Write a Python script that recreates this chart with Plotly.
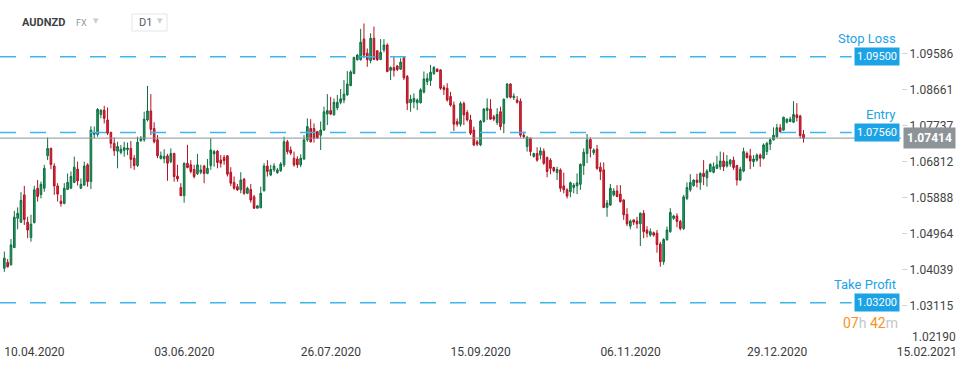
import plotly.graph_objects as go

# ---------------- data (daily AUDNZD candles) ----------------
opens = [
    1.0408, 1.0423, 1.0417, 1.0461, 1.0536, 1.0526, 1.0596, 1.0526, 1.0487, 1.0525,
    1.0613, 1.0597, 1.0613, 1.0696, 1.0715, 1.0670, 1.0619, 1.0580, 1.0574, 1.0610,
    1.0613, 1.0628, 1.0662, 1.0613, 1.0621, 1.0673, 1.0630, 1.0751, 1.0751, 1.0802,
    1.0813, 1.0788, 1.0756, 1.0728, 1.0708, 1.0705, 1.0710, 1.0712, 1.0715, 1.0690,
    1.0671, 1.0735, 1.0737, 1.0788, 1.0811, 1.0766, 1.0737, 1.0689, 1.0689, 1.0696,
    1.0681, 1.0702, 1.0644, 1.0615, 1.0594, 1.0677, 1.0673, 1.0661, 1.0650, 1.0654,
    1.0670, 1.0651, 1.0671, 1.0701, 1.0708, 1.0685, 1.0692, 1.0696, 1.0654, 1.0628,
    1.0617, 1.0609, 1.0637, 1.0600, 1.0610, 1.0591, 1.0562, 1.0563, 1.0607, 1.0670,
    1.0647, 1.0660, 1.0653, 1.0658, 1.0673, 1.0732, 1.0711, 1.0690, 1.0688, 1.0673,
    1.0688, 1.0737, 1.0766, 1.0766, 1.0758, 1.0749, 1.0762, 1.0803, 1.0812, 1.0801,
    1.0819, 1.0833, 1.0839, 1.0852, 1.0876, 1.0907, 1.0942, 1.0942, 1.0995, 1.0959,
    1.0940, 1.0997, 1.0965, 1.0943, 1.0967, 1.0980, 1.0915, 1.0922, 1.0926, 1.0918,
    1.0947, 1.0899, 1.0832, 1.0834, 1.0832, 1.0832, 1.0859, 1.0886, 1.0889, 1.0907,
    1.0918, 1.0916, 1.0871, 1.0869, 1.0848, 1.0826, 1.0784, 1.0777, 1.0830, 1.0807,
    1.0788, 1.0762, 1.0732, 1.0724, 1.0784, 1.0812, 1.0816, 1.0796, 1.0781, 1.0809,
    1.0779, 1.0846, 1.0880, 1.0845, 1.0839, 1.0836, 1.0749, 1.0720, 1.0741, 1.0694,
    1.0702, 1.0698, 1.0708, 1.0692, 1.0685, 1.0666, 1.0653, 1.0660, 1.0619, 1.0609,
    1.0604, 1.0615, 1.0619, 1.0623, 1.0671, 1.0702, 1.0738, 1.0704, 1.0713, 1.0667,
    1.0660, 1.0564, 1.0570, 1.0596, 1.0606, 1.0598, 1.0583, 1.0546, 1.0516, 1.0532,
    1.0529, 1.0522, 1.0549, 1.0506, 1.0493, 1.0499, 1.0498, 1.0470, 1.0425, 1.0481,
    1.0502, 1.0536, 1.0542, 1.0528, 1.0510, 1.0587, 1.0609, 1.0620, 1.0634, 1.0628,
    1.0651, 1.0640, 1.0656, 1.0654, 1.0664, 1.0668, 1.0683, 1.0670, 1.0675, 1.0685,
    1.0671, 1.0634, 1.0657, 1.0702, 1.0696, 1.0681, 1.0685, 1.0698, 1.0690, 1.0707,
    1.0726, 1.0737, 1.0745, 1.0768, 1.0762, 1.0782, 1.0784, 1.0782, 1.0801, 1.0798,
    1.0751,
]
highs = [
    1.0451, 1.0432, 1.0483, 1.0555, 1.0564, 1.0603, 1.0619, 1.0540, 1.0545, 1.0619,
    1.0634, 1.0630, 1.0673, 1.0743, 1.0717, 1.0677, 1.0626, 1.0596, 1.0626, 1.0651,
    1.0656, 1.0694, 1.0681, 1.0638, 1.0681, 1.0677, 1.0772, 1.0771, 1.0818, 1.0815,
    1.0824, 1.0820, 1.0758, 1.0743, 1.0732, 1.0724, 1.0732, 1.0730, 1.0734, 1.0698,
    1.0745, 1.0747, 1.0809, 1.0875, 1.0854, 1.0782, 1.0749, 1.0707, 1.0713, 1.0701,
    1.0715, 1.0704, 1.0673, 1.0626, 1.0679, 1.0724, 1.0685, 1.0673, 1.0701, 1.0673,
    1.0673, 1.0688, 1.0741, 1.0711, 1.0711, 1.0698, 1.0698, 1.0698, 1.0667, 1.0643,
    1.0624, 1.0654, 1.0638, 1.0617, 1.0624, 1.0596, 1.0570, 1.0617, 1.0677, 1.0685,
    1.0673, 1.0677, 1.0665, 1.0680, 1.0745, 1.0737, 1.0720, 1.0707, 1.0695, 1.0700,
    1.0749, 1.0792, 1.0790, 1.0779, 1.0760, 1.0784, 1.0822, 1.0854, 1.0847, 1.0843,
    1.0852, 1.0867, 1.0890, 1.0913, 1.0915, 1.0950, 1.0957, 1.1021, 1.1035, 1.0971,
    1.1010, 1.1027, 1.0967, 1.0995, 1.0995, 1.0984, 1.0925, 1.0952, 1.0929, 1.0946,
    1.0950, 1.0903, 1.0852, 1.0856, 1.0843, 1.0869, 1.0912, 1.0907, 1.0929, 1.0926,
    1.0920, 1.0918, 1.0877, 1.0882, 1.0860, 1.0835, 1.0792, 1.0835, 1.0835, 1.0813,
    1.0801, 1.0771, 1.0737, 1.0788, 1.0818, 1.0843, 1.0841, 1.0801, 1.0818, 1.0822,
    1.0843, 1.0882, 1.0882, 1.0856, 1.0849, 1.0843, 1.0758, 1.0747, 1.0743, 1.0704,
    1.0718, 1.0718, 1.0715, 1.0694, 1.0690, 1.0668, 1.0668, 1.0664, 1.0653, 1.0613,
    1.0630, 1.0626, 1.0651, 1.0677, 1.0715, 1.0752, 1.0743, 1.0715, 1.0724, 1.0679,
    1.0679, 1.0583, 1.0624, 1.0613, 1.0621, 1.0621, 1.0585, 1.0562, 1.0533, 1.0533,
    1.0540, 1.0551, 1.0557, 1.0516, 1.0510, 1.0502, 1.0506, 1.0476, 1.0485, 1.0515,
    1.0562, 1.0545, 1.0549, 1.0532, 1.0596, 1.0628, 1.0649, 1.0636, 1.0650, 1.0654,
    1.0685, 1.0662, 1.0677, 1.0679, 1.0696, 1.0707, 1.0705, 1.0698, 1.0688, 1.0694,
    1.0673, 1.0668, 1.0717, 1.0707, 1.0714, 1.0698, 1.0702, 1.0702, 1.0728, 1.0732,
    1.0741, 1.0769, 1.0778, 1.0777, 1.0796, 1.0792, 1.0796, 1.0836, 1.0831, 1.0801,
    1.0762,
]
lows = [
    1.0399, 1.0410, 1.0415, 1.0460, 1.0508, 1.0524, 1.0519, 1.0485, 1.0476, 1.0523,
    1.0579, 1.0587, 1.0604, 1.0685, 1.0662, 1.0596, 1.0579, 1.0566, 1.0572, 1.0609,
    1.0611, 1.0626, 1.0620, 1.0611, 1.0620, 1.0617, 1.0611, 1.0741, 1.0745, 1.0792,
    1.0779, 1.0749, 1.0715, 1.0696, 1.0664, 1.0700, 1.0694, 1.0698, 1.0664, 1.0660,
    1.0668, 1.0732, 1.0732, 1.0784, 1.0749, 1.0728, 1.0690, 1.0687, 1.0677, 1.0632,
    1.0677, 1.0630, 1.0630, 1.0593, 1.0576, 1.0664, 1.0651, 1.0638, 1.0647, 1.0649,
    1.0626, 1.0649, 1.0660, 1.0668, 1.0664, 1.0666, 1.0673, 1.0643, 1.0619, 1.0609,
    1.0606, 1.0600, 1.0596, 1.0598, 1.0576, 1.0560, 1.0561, 1.0562, 1.0604, 1.0643,
    1.0644, 1.0655, 1.0650, 1.0655, 1.0667, 1.0700, 1.0698, 1.0668, 1.0665, 1.0667,
    1.0685, 1.0732, 1.0730, 1.0730, 1.0739, 1.0711, 1.0760, 1.0775, 1.0800, 1.0799,
    1.0813, 1.0828, 1.0831, 1.0850, 1.0874, 1.0905, 1.0940, 1.0940, 1.0946, 1.0924,
    1.0933, 1.0941, 1.0939, 1.0941, 1.0961, 1.0910, 1.0890, 1.0899, 1.0913, 1.0916,
    1.0890, 1.0813, 1.0809, 1.0818, 1.0813, 1.0830, 1.0856, 1.0877, 1.0875, 1.0903,
    1.0911, 1.0865, 1.0852, 1.0835, 1.0822, 1.0760, 1.0771, 1.0771, 1.0775, 1.0784,
    1.0749, 1.0721, 1.0721, 1.0721, 1.0781, 1.0788, 1.0788, 1.0785, 1.0775, 1.0762,
    1.0754, 1.0843, 1.0843, 1.0839, 1.0830, 1.0743, 1.0741, 1.0707, 1.0696, 1.0692,
    1.0681, 1.0687, 1.0673, 1.0641, 1.0649, 1.0654, 1.0634, 1.0604, 1.0600, 1.0587,
    1.0590, 1.0600, 1.0598, 1.0609, 1.0647, 1.0677, 1.0692, 1.0698, 1.0660, 1.0634,
    1.0562, 1.0540, 1.0568, 1.0592, 1.0590, 1.0576, 1.0532, 1.0516, 1.0508, 1.0519,
    1.0510, 1.0465, 1.0485, 1.0487, 1.0489, 1.0489, 1.0448, 1.0412, 1.0417, 1.0479,
    1.0499, 1.0532, 1.0513, 1.0505, 1.0506, 1.0583, 1.0604, 1.0617, 1.0615, 1.0609,
    1.0621, 1.0617, 1.0654, 1.0651, 1.0662, 1.0660, 1.0657, 1.0666, 1.0668, 1.0660,
    1.0620, 1.0632, 1.0654, 1.0690, 1.0662, 1.0668, 1.0681, 1.0668, 1.0687, 1.0698,
    1.0711, 1.0735, 1.0743, 1.0755, 1.0760, 1.0779, 1.0782, 1.0780, 1.0784, 1.0741,
    1.0730,
]
closes = [
    1.0434, 1.0412, 1.0468, 1.0539, 1.0549, 1.0582, 1.0533, 1.0506, 1.0521, 1.0609,
    1.0592, 1.0623, 1.0664, 1.0715, 1.0674, 1.0619, 1.0598, 1.0574, 1.0613, 1.0628,
    1.0643, 1.0667, 1.0632, 1.0623, 1.0670, 1.0630, 1.0762, 1.0756, 1.0815, 1.0813,
    1.0792, 1.0754, 1.0728, 1.0709, 1.0720, 1.0713, 1.0717, 1.0716, 1.0687, 1.0671,
    1.0731, 1.0741, 1.0790, 1.0811, 1.0764, 1.0732, 1.0696, 1.0696, 1.0695, 1.0677,
    1.0702, 1.0643, 1.0637, 1.0594, 1.0677, 1.0666, 1.0656, 1.0643, 1.0673, 1.0660,
    1.0651, 1.0664, 1.0711, 1.0707, 1.0679, 1.0677, 1.0684, 1.0649, 1.0626, 1.0613,
    1.0609, 1.0634, 1.0600, 1.0613, 1.0583, 1.0562, 1.0568, 1.0600, 1.0670, 1.0656,
    1.0661, 1.0670, 1.0660, 1.0675, 1.0732, 1.0707, 1.0703, 1.0673, 1.0673, 1.0690,
    1.0737, 1.0771, 1.0732, 1.0741, 1.0742, 1.0762, 1.0809, 1.0812, 1.0803, 1.0833,
    1.0833, 1.0842, 1.0854, 1.0880, 1.0911, 1.0948, 1.0954, 1.0987, 1.0954, 1.0942,
    1.0997, 1.0943, 1.0942, 1.0961, 1.0980, 1.0912, 1.0922, 1.0915, 1.0917, 1.0936,
    1.0896, 1.0831, 1.0841, 1.0843, 1.0839, 1.0865, 1.0893, 1.0894, 1.0910, 1.0922,
    1.0912, 1.0869, 1.0866, 1.0839, 1.0826, 1.0777, 1.0777, 1.0830, 1.0801, 1.0788,
    1.0754, 1.0724, 1.0726, 1.0785, 1.0816, 1.0818, 1.0790, 1.0790, 1.0802, 1.0771,
    1.0841, 1.0880, 1.0846, 1.0849, 1.0833, 1.0749, 1.0745, 1.0743, 1.0707, 1.0702,
    1.0685, 1.0709, 1.0677, 1.0656, 1.0664, 1.0658, 1.0661, 1.0613, 1.0609, 1.0593,
    1.0627, 1.0621, 1.0627, 1.0674, 1.0705, 1.0737, 1.0715, 1.0711, 1.0664, 1.0656,
    1.0564, 1.0575, 1.0613, 1.0606, 1.0592, 1.0579, 1.0545, 1.0522, 1.0529, 1.0526,
    1.0522, 1.0549, 1.0502, 1.0498, 1.0502, 1.0493, 1.0469, 1.0425, 1.0482, 1.0506,
    1.0551, 1.0542, 1.0528, 1.0510, 1.0591, 1.0615, 1.0628, 1.0634, 1.0628, 1.0651,
    1.0643, 1.0657, 1.0674, 1.0668, 1.0673, 1.0683, 1.0668, 1.0681, 1.0685, 1.0666,
    1.0634, 1.0662, 1.0707, 1.0691, 1.0683, 1.0688, 1.0698, 1.0690, 1.0724, 1.0728,
    1.0737, 1.0749, 1.0768, 1.0758, 1.0795, 1.0790, 1.0790, 1.0802, 1.0794, 1.0748,
    1.0741,
]
bars = list(range(len(closes)))

# date labels along the bottom (bar index where each label starts)
date_tick_bars = [0, 45, 89, 134, 179, 223, 268]
date_tick_labels = ["10.04.2020", "03.06.2020", "26.07.2020", "15.09.2020",
                    "06.11.2020", "29.12.2020", "15.02.2021"]

# price scale labels (the lowest one is lifted above the date row, as in the source)
price_ticks = [1.09586, 1.08661, 1.07737, 1.06812, 1.05888, 1.04964, 1.04039, 1.03115]
price_tick_lowest = 1.02190

# trade levels
level_names = ["Stop Loss", "Entry", "Take Profit"]
level_values = [1.09500, 1.07560, 1.03200]
current_price = 1.07414
countdown_hours = "07"
countdown_minutes = "42"
symbol = "AUDNZD"
timeframe = "D1"

# ---------------- figure ----------------
BLUE = "#1ca3e6"
GREY = "#8c9498"
AXIS_POS = 0.929

fig = go.Figure()
fig.add_trace(go.Candlestick(
    x=bars, open=opens, high=highs, low=lows, close=closes,
    increasing=dict(line=dict(color="#0f6e40", width=1), fillcolor="#1f9c62"),
    decreasing=dict(line=dict(color="#b01222", width=1), fillcolor="#e1283b"),
    whiskerwidth=0, hoverinfo="skip", showlegend=False,
))

shapes = []
annotations = []
for name, val in zip(level_names, level_values):
    shapes.append(dict(type="line", xref="paper", yref="y", x0=0, x1=0.878, y0=val, y1=val,
                       line=dict(color="#3fb5ee", width=1.5, dash="16px,14px")))
    annotations.append(dict(xref="paper", yref="y", x=0.928, y=val, xanchor="right",
                            yanchor="middle", text=f"{val:.5f}", showarrow=False,
                            bgcolor=BLUE, borderpad=2,
                            font=dict(family="Roboto", size=11, color="white")))
    annotations.append(dict(xref="paper", yref="y", x=0.926, y=val, yshift=18,
                            xanchor="right", yanchor="middle", text=name, showarrow=False,
                            font=dict(family="Roboto", size=13, color=BLUE)))

# current price line + tag
shapes.append(dict(type="line", xref="paper", yref="y", x0=0, x1=AXIS_POS,
                   y0=current_price, y1=current_price, line=dict(color=GREY, width=1)))
annotations.append(dict(xref="paper", yref="y", x=AXIS_POS + 0.002, y=current_price,
                        xanchor="left", yanchor="middle", text=f"<b>{current_price:.5f}</b>",
                        showarrow=False, bgcolor=GREY, borderpad=3,
                        font=dict(family="Roboto", size=12, color="white")))

# lowest price label, lifted clear of the date row
annotations.append(dict(xref="paper", yref="y", x=AXIS_POS + 0.0095, y=price_tick_lowest,
                        yshift=5, xanchor="left", yanchor="middle",
                        text=f"{price_tick_lowest:.5f}", showarrow=False,
                        font=dict(family="Roboto", size=12, color="#444")))

# countdown
annotations.append(dict(
    xref="paper", yref="y", x=0.928, y=level_values[2], yshift=-20,
    xanchor="right", yanchor="middle", showarrow=False,
    text=(f'<span style="color:#f7931e">{countdown_hours}</span>'
          f'<span style="color:#c3c7ca">h</span> '
          f'<span style="color:#f7931e">{countdown_minutes}</span>'
          f'<span style="color:#c3c7ca">m</span>'),
    font=dict(family="Roboto", size=14)))

# header: symbol, market, timeframe selector
annotations += [
    dict(xref="paper", yref="paper", x=20 / 970, y=1 - 22 / 345, xanchor="left", yanchor="middle",
         text=f"<b>{symbol}</b>", showarrow=False,
         font=dict(family="Roboto", size=11, color="#3d4347")),
    dict(xref="paper", yref="paper", x=74 / 970, y=1 - 23 / 345, xanchor="left", yanchor="middle",
         text="FX", showarrow=False, font=dict(family="Roboto", size=9, color="#8a9aa5")),
    dict(xref="paper", yref="paper", x=91 / 970, y=1 - 21 / 345, xanchor="left", yanchor="middle",
         text="▼", showarrow=False, font=dict(family="DejaVu Sans", size=7, color="#c8cdd1")),
    dict(xref="paper", yref="paper", x=137 / 970, y=1 - 22 / 345, xanchor="left", yanchor="middle",
         text=timeframe, showarrow=False, font=dict(family="Roboto", size=11, color="#555b60")),
    dict(xref="paper", yref="paper", x=155 / 970, y=1 - 21 / 345, xanchor="left", yanchor="middle",
         text="▼", showarrow=False, font=dict(family="DejaVu Sans", size=7, color="#c8cdd1")),
]
shapes.append(dict(type="rect", xref="paper", yref="paper", x0=132 / 970, x1=167 / 970,
                   y0=1 - 31 / 345, y1=1 - 14 / 345, line=dict(color="#e2e5e7", width=1),
                   fillcolor="rgba(0,0,0,0)"))

fig.update_layout(
    width=970, height=368,
    margin=dict(l=0, r=0, t=0, b=23),
    paper_bgcolor="white", plot_bgcolor="white",
    font=dict(family="Roboto", size=12, color="#444"),
    showlegend=False,
    shapes=shapes, annotations=annotations,
    xaxis=dict(
        range=[-1.3, 290.0], rangeslider=dict(visible=False),
        showgrid=False, zeroline=False, showline=False,
        tickmode="array", tickvals=date_tick_bars, ticktext=date_tick_labels,
        ticklabelposition="outside right", ticks="", ticklabelstandoff=-2,
        tickfont=dict(family="Roboto", size=12, color="#3c3c3c"),
        fixedrange=True,
    ),
    yaxis=dict(
        range=[1.02116, 1.10951], side="right", anchor="free", position=AXIS_POS,
        showgrid=False, zeroline=False, showline=False,
        tickmode="array", tickvals=price_ticks, tickformat=".5f",
        ticks="outside", ticklen=5, tickcolor="#cfd3d6",
        tickfont=dict(family="Roboto", size=12, color="#444"),
        fixedrange=True,
    ),
)

fig.write_html("out.html", config={"displayModeBar": False, "staticPlot": True},
               post_script="document.body.style.margin='0';")
